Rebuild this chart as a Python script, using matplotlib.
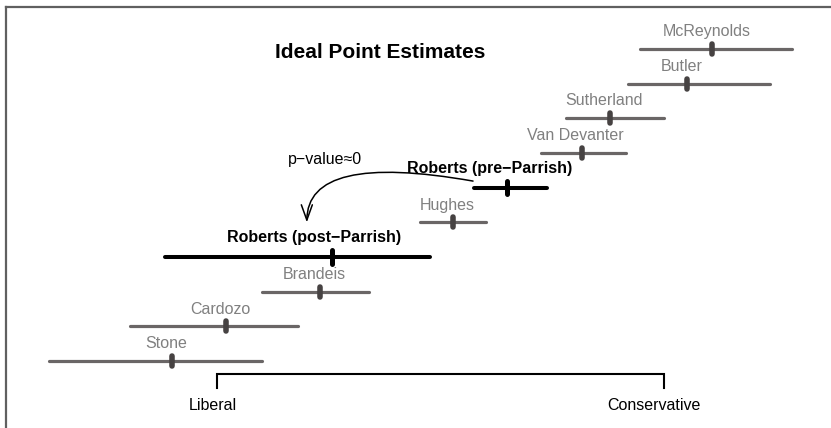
import matplotlib
matplotlib.use("Agg")
import matplotlib.pyplot as plt
from matplotlib.lines import Line2D

plt.rcParams['font.family'] = ['Liberation Sans', 'DejaVu Sans']

# ideal point estimates (bottom row first)
justices = ["Stone", "Cardozo", "Brandeis", "Roberts (post\u2212Parrish)", "Hughes",
            "Roberts (pre\u2212Parrish)", "Van Devanter", "Sutherland", "Butler", "McReynolds"]
est = [-2.23, -1.78, -1.00, -0.90, 0.11, 0.56, 1.18, 1.42, 2.06, 2.27]
lower = [-3.26, -2.58, -1.48, -2.29, -0.17, 0.28, 0.84, 1.05, 1.57, 1.67]
upper = [-1.48, -1.18, -0.59, -0.08, 0.38, 0.89, 1.55, 1.87, 2.75, 2.93]
is_roberts = [False, False, False, True, False, True, False, False, False, False]

fig = plt.figure(figsize=(8.31, 4.28), dpi=100)
ax = fig.add_axes([0, 0, 1, 1])
ax.set_xlim(-3.667, 3.258)
ax.set_ylim(-0.932, 11.413)
ax.axis("off")

for i, name in enumerate(justices):
    row = i + 1
    if is_roberts[i]:
        ax.plot([lower[i], upper[i]], [row, row], color="black", lw=2.9,
                solid_capstyle="round")
        ax.plot([est[i], est[i]], [row - 0.19, row + 0.19], color="black", lw=3.6,
                solid_capstyle="round")
        ax.text(est[i] - 0.15, row + 0.55, name, ha="center", va="center",
                fontsize=11.5, fontweight="bold", color="black")
    else:
        ax.plot([lower[i], upper[i]], [row, row], color="#6a6666", lw=2.3,
                solid_capstyle="round")
        ax.plot([est[i], est[i]], [row - 0.14, row + 0.14], color="#464242", lw=4.0,
                solid_capstyle="round")
        ax.text(est[i] - 0.05, row + 0.5, name, ha="center", va="center",
                fontsize=11.5, color="#808080")

# arrow from pre- to post-Parrish
ax.annotate("", xy=(-1.11, 5.0), xytext=(0.275, 6.19),
            arrowprops=dict(arrowstyle="->,head_length=1.0,head_width=0.36",
                            connectionstyle="angle3,angleA=170,angleB=90",
                            color="black", lw=1.1, shrinkA=0, shrinkB=0,
                            mutation_scale=11))
ax.text(-0.958, 6.80, "p\u2212value\u22480", ha="center", va="center", fontsize=11.5)

ax.text(-0.5, 9.91, "Ideal Point Estimates", ha="center", va="center",
        fontsize=15, fontweight="bold")

# liberal / conservative bracket
ax.plot([-1.86, -1.86, 1.87, 1.87], [0.22, 0.625, 0.625, 0.22], color="black",
        lw=1.5, solid_joinstyle="miter")
ax.text(-1.89, -0.27, "Liberal", ha="center", va="center", fontsize=11.5)
ax.text(1.78, -0.27, "Conservative", ha="center", va="center", fontsize=11.5)

# frame
fig.add_artist(Line2D([5.5 / 831, 5.5 / 831], [0, 1 - 7 / 428], color="#606060", lw=1.6,
                      transform=fig.transFigure))
fig.add_artist(Line2D([5.5 / 831, 1], [1 - 7 / 428, 1 - 7 / 428], color="#606060", lw=1.6,
                      transform=fig.transFigure))

fig.savefig("out.png", dpi=100)
